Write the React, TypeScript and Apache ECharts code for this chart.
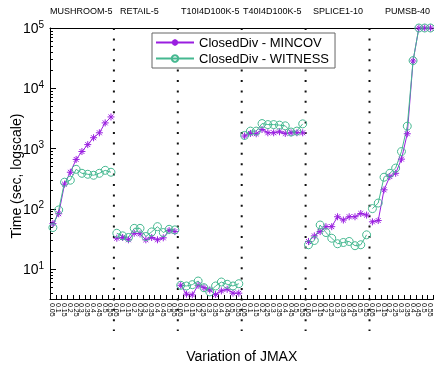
import React, { useEffect, useRef } from "react";
import * as echarts from "echarts";

const groups = ["MUSHROOM-5", "RETAIL-5", "T10I4D100K-5", "T40I4D100K-5", "SPLICE1-10", "PUMSB-40"];
const jmaxLabels = ["0.05", "0.1", "0.15", "0.2", "0.25", "0.3", "0.35", "0.4", "0.45", "0.5", "0.55"];

const mincov = [
  57, 83, 257, 405, 661, 894, 1164, 1514, 1828, 2667, 3350,
  32.6, 33.5, 30.7, 39.4, 38.5, 30.7, 33.5, 30.7, 33.1, 43.6, 42,
  5.4, 3.85, 3.75, 5.4, 4.93, 4.53, 3.79, 4.36, 4.64, 4.0, 4.0,
  1615, 1782, 1762, 2072, 1828, 1828, 1900, 1782, 1828, 1828, 1828,
  28.8, 35.6, 42, 50.7, 50.7, 74, 65.3, 74, 74, 83.8, 78.9,
  61, 64, 207, 343, 389, 668, 1762, 28400, 100000, 100000, 100000,
];
const witness = [
  49, 96, 277, 299, 453, 389, 375, 361, 389, 436, 405,
  39.4, 35.7, 33.5, 47.5, 47.5, 34.8, 41.5, 50.7, 40.5, 45.8, 44.8,
  5.4, 5.26, 5.53, 6.36, 4.93, 4.2, 5.26, 6.12, 5.61, 5.26, 5.74,
  1652, 1950, 1950, 2600, 2500, 2500, 2448, 2384, 1880, 1950, 2570,
  25.4, 29.9, 54, 40.5, 32.6, 26.4, 27.7, 28.8, 24.5, 25.4, 37.1,
  101, 125, 335, 389, 475, 893, 2355, 28800, 100000, 100000, 100000,
];

const yMin = 3.2;
const yMax = 100000;

const FONT = "'Liberation Sans', Arial, sans-serif";
const PURPLE = "#9a1ee0";
const GREEN = "#45b890";
const ASTERISK = "path://M5,0L5,10M0,5L10,5M1.5,1.5L8.5,8.5M1.5,8.5L8.5,1.5";

// layout of the dataset captions above the plot
const captionX = [50, 120, 181, 243, 313, 385];

export default function App() {
  const ref = useRef<HTMLDivElement>(null);
  useEffect(() => {
    if (!ref.current) return;
    const chart = echarts.init(ref.current, null, { renderer: "svg" });
    const N = jmaxLabels.length;
    const categories = groups.flatMap((g) => jmaxLabels.map((j) => `${g}:${j}`));

    const minorLog: number[] = [];
    for (let d = 0; d <= 4; d++) {
      for (let m = 2; m <= 9; m++) {
        const v = m * Math.pow(10, d);
        if (v >= yMin && v <= yMax) minorLog.push(Math.log10(v));
      }
    }

    const makeSeries = (name: string, values: number[], style: any) =>
      groups.map((_, gi) => ({
        name,
        type: "line",
        data: values.map((v, i) => (Math.floor(i / N) === gi ? v : "-")),
        xAxisIndex: 0,
        yAxisIndex: 0,
        z: 3,
        ...style,
      }));

    const mincovStyle = {
      symbol: ASTERISK,
      symbolSize: 7,
      showAllSymbol: true,
      lineStyle: { color: PURPLE, width: 1 },
      itemStyle: { color: PURPLE, borderColor: PURPLE, borderWidth: 1 },
    };
    const witnessStyle = {
      symbol: "circle",
      symbolSize: 8,
      showAllSymbol: true,
      lineStyle: { color: GREEN, width: 1 },
      itemStyle: { color: "rgba(255,255,255,0)", borderColor: GREEN, borderWidth: 1 },
    };

    const option: any = {
      animation: false,
      textStyle: { fontFamily: FONT, color: "#000" },
      grid: { left: 50, right: 0, top: 28, bottom: 65, containLabel: false },
      legend: {
        orient: "vertical",
        left: 152,
        top: 33,
        data: ["ClosedDiv - MINCOV", "ClosedDiv - WITNESS"],
        itemWidth: 38,
        itemHeight: 8,
        itemGap: 3,
        padding: [3, 6, 3, 3],
        borderColor: "#666",
        borderWidth: 1,
        backgroundColor: "#fff",
        textStyle: { fontSize: 13, color: "#000", fontFamily: FONT },
      },
      xAxis: [
        {
          type: "category",
          data: categories,
          boundaryGap: true,
          axisLine: { show: true, lineStyle: { color: "#000", width: 1 } },
          axisTick: { show: true, inside: true, length: 4, interval: 0, lineStyle: { color: "#000" } },
          axisLabel: {
            interval: 0,
            rotate: -90,
            fontSize: 7,
            color: "#000",
            margin: 4,
            fontFamily: FONT,
            formatter: (v: string) => v.split(":")[1],
          },
          splitLine: { show: false },
          name: "Variation of JMAX",
          nameLocation: "middle",
          nameGap: 50,
          nameTextStyle: { fontSize: 14, color: "#000", fontFamily: FONT },
        },
        {
          type: "category",
          data: categories,
          position: "top",
          axisLine: { show: true, lineStyle: { color: "#000", width: 1 } },
          axisTick: { show: false },
          axisLabel: { show: false },
          splitLine: { show: false },
        },
      ],
      yAxis: [
        {
          type: "log",
          logBase: 10,
          min: yMin,
          max: yMax,
          axisLine: { show: true, lineStyle: { color: "#000", width: 1 } },
          axisTick: { show: true, inside: true, length: 6, lineStyle: { color: "#000" } },
          splitLine: { show: false },
          axisLabel: {
            margin: 6,
            formatter: (v: number) => {
              const l = Math.log10(v);
              const n = Math.round(l);
              if (Math.abs(l - n) > 1e-6) return "";
              return `{b|10}{s|${n}}`;
            },
            rich: {
              b: { fontSize: 14, color: "#000", fontFamily: FONT, lineHeight: 18 },
              s: { fontSize: 10, color: "#000", fontFamily: FONT, verticalAlign: "top", lineHeight: 10 },
            },
          },
        },
        {
          type: "value",
          min: Math.log10(yMin),
          max: Math.log10(yMax),
          position: "left",
          axisLine: { show: false },
          axisLabel: { show: false },
          splitLine: { show: false },
          axisTick: { show: true, inside: true, length: 3, customValues: minorLog, lineStyle: { color: "#000" } },
        },
      ],
      graphic: [
        ...groups.map((g, i) => ({
          type: "text",
          left: captionX[i],
          top: 6,
          style: { text: g, fontSize: 9, fill: "#000", fontFamily: FONT },
        })),
        {
          type: "text",
          x: 16,
          y: 176,
          rotation: Math.PI / 2,
          style: {
            text: "Time (sec, logscale)",
            fontSize: 14,
            fill: "#000",
            fontFamily: FONT,
            align: "center",
            verticalAlign: "middle",
          },
        },
      ],
      series: [
        {
          type: "custom",
          xAxisIndex: 0,
          yAxisIndex: 0,
          silent: true,
          z: 1,
          clip: false,
          data: groups.slice(1).map((_, i) => [(i + 1) * N - 1, yMax]),
          renderItem: (params: any, api: any) => {
            const band = api.size([1, 0], [0, 10])[0];
            const p = api.coord([api.value(0), api.value(1)]);
            const cs = params.coordSys;
            const x = p[0] + band / 2;
            return {
              type: "line",
              shape: { x1: x, y1: cs.y, x2: x, y2: cs.y + cs.height + 32 },
              style: { stroke: "#111", lineWidth: 2, lineDash: [2, 8.4] },
            };
          },
        },
        ...makeSeries("ClosedDiv - MINCOV", mincov, mincovStyle),
        ...makeSeries("ClosedDiv - WITNESS", witness, witnessStyle),
      ],
    };
    chart.setOption(option);
    return () => chart.dispose();
  }, []);
  return <div ref={ref} style={{ position: "fixed", left: 0, top: 0, width: 434, height: 368 }} />;
}
